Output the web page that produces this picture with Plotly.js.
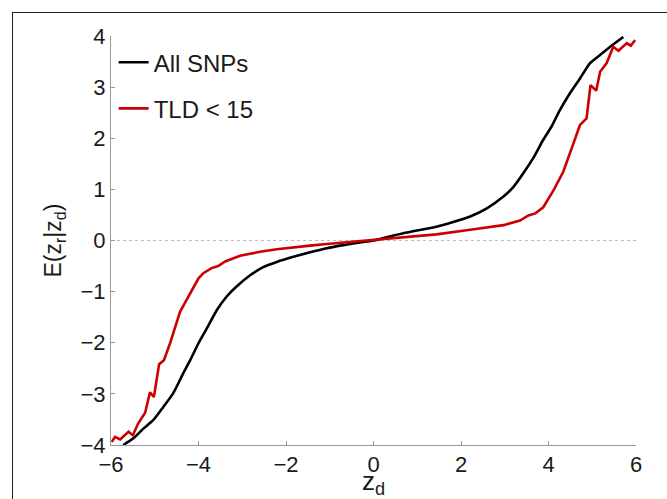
<!DOCTYPE html>
<html>
<head>
<meta charset="utf-8">
<script src="https://cdn.plot.ly/plotly-3.0.1.min.js"></script>
<style>
  html, body { margin: 0; padding: 0; background: #fff; overflow: hidden; }
  #wrap { position: relative; width: 667px; height: 499px; }
  #chart { position: absolute; left: 0; top: 0; width: 667px; height: 499px; }
  #frame { position: absolute; left: 12px; top: 12px; width: 900px; height: 900px;
           border: 1.5px solid #222; pointer-events: none; box-sizing: border-box; }
</style>
</head>
<body>
<div id="wrap">
  <div id="chart"></div>
  <div id="frame"></div>
</div>
<script>
// All SNPs
const allX = [-5.72, -5.49, -5.26, -5.03, -4.80, -4.58, -4.35, -4.19, -4.00, -3.81, -3.58, -3.36, -3.13, -2.82, -2.52, -2.21, -1.83, -1.45, -1.07, -0.69, -0.31, 0.0, 0.68, 1.44, 1.82, 2.21, 2.59, 2.97, 3.20, 3.42, 3.65, 3.88, 4.07, 4.26, 4.49, 4.72, 4.95, 5.18, 5.41, 5.71];
const allY = [-4.00, -3.87, -3.68, -3.51, -3.25, -2.99, -2.60, -2.34, -2.01, -1.72, -1.36, -1.10, -0.90, -0.68, -0.52, -0.42, -0.32, -0.23, -0.15, -0.09, -0.04, 0.0, 0.14, 0.27, 0.36, 0.47, 0.63, 0.86, 1.05, 1.31, 1.61, 1.97, 2.23, 2.55, 2.88, 3.17, 3.47, 3.63, 3.79, 3.98];

// TLD < 15
const tldX = [-5.98, -5.91, -5.79, -5.60, -5.50, -5.38, -5.22, -5.11, -5.02, -4.90, -4.79, -4.65, -4.42, -4.19, -4.00, -3.89, -3.70, -3.55, -3.39, -3.05, -2.59, -2.21, -1.83, -1.45, -1.07, -0.69, -0.31, 0.0, 0.68, 1.44, 2.21, 2.59, 2.97, 3.35, 3.54, 3.70, 3.88, 4.12, 4.34, 4.57, 4.72, 4.87, 4.96, 5.09, 5.18, 5.33, 5.48, 5.60, 5.79, 5.88, 5.98];
const tldY = [-3.94, -3.84, -3.89, -3.74, -3.81, -3.58, -3.37, -2.97, -3.06, -2.42, -2.34, -2.01, -1.39, -1.03, -0.74, -0.64, -0.54, -0.50, -0.41, -0.30, -0.22, -0.17, -0.13, -0.10, -0.07, -0.04, -0.02, 0.0, 0.06, 0.12, 0.21, 0.25, 0.30, 0.39, 0.49, 0.53, 0.65, 0.99, 1.35, 1.90, 2.26, 2.39, 3.04, 2.93, 3.30, 3.47, 3.79, 3.71, 3.86, 3.81, 3.92];

const seriesNames = ['All SNPs', 'TLD < 15'];
const xTicks = [-6, -4, -2, 0, 2, 4, 6];
const yTicks = [-4, -3, -2, -1, 0, 1, 2, 3, 4];

const font = 'Liberation Sans, Arial, sans-serif';

const traces = [
  { x: allX, y: allY, name: seriesNames[0], mode: 'lines', legendgroup: 'a',
    line: { color: '#000000', width: 2.6, shape: 'spline', smoothing: 0.6 } },
  { x: tldX, y: tldY, name: seriesNames[1], mode: 'lines', legendgroup: 'b',
    line: { color: '#cc0000', width: 2.6 } }
];

const axisCommon = {
  showline: true, linecolor: '#999', linewidth: 1,
  ticks: 'inside', ticklen: 4, tickcolor: '#999', tickwidth: 1,
  showgrid: false, zeroline: false, mirror: false,
  tickfont: { family: font, size: 22, color: '#1a1a1a' }
};

const layout = {
  width: 667, height: 499,
  margin: { l: 111, r: 31, t: 36, b: 54 },
  paper_bgcolor: '#fff', plot_bgcolor: '#fff',
  showlegend: true,
  legend: { x: 0.005, y: 0.99, xanchor: 'left', yanchor: 'top',
            bgcolor: 'rgba(0,0,0,0)', traceorder: 'grouped', tracegroupgap: 12,
            font: { family: font, size: 24, color: '#1a1a1a' } },
  xaxis: Object.assign({}, axisCommon, {
    range: [-6, 6], tickvals: xTicks, ticktext: xTicks.map(v => v < 0 ? '\u2212' + Math.abs(v) : String(v)),
    title: { text: 'z<sub>d</sub>', font: { family: font, size: 26, color: '#1a1a1a' }, standoff: 0 }
  }),
  yaxis: Object.assign({}, axisCommon, {
    range: [-4, 4], tickvals: yTicks, ticktext: yTicks.map(v => v < 0 ? '\u2212' + Math.abs(v) : String(v)),
    title: { text: 'E(z<sub>r</sub>|z<sub>d</sub>)', font: { family: font, size: 23, color: '#1a1a1a' }, standoff: 12 }
  }),
  shapes: [
    { type: 'line', xref: 'x', yref: 'y', x0: -6, x1: 6, y0: 0, y1: 0,
      line: { color: '#bbbbbb', width: 1, dash: 'dot' }, layer: 'below' }
  ]
};

Plotly.newPlot('chart', traces, layout, { displayModeBar: false, staticPlot: true });
</script>
</body>
</html>
